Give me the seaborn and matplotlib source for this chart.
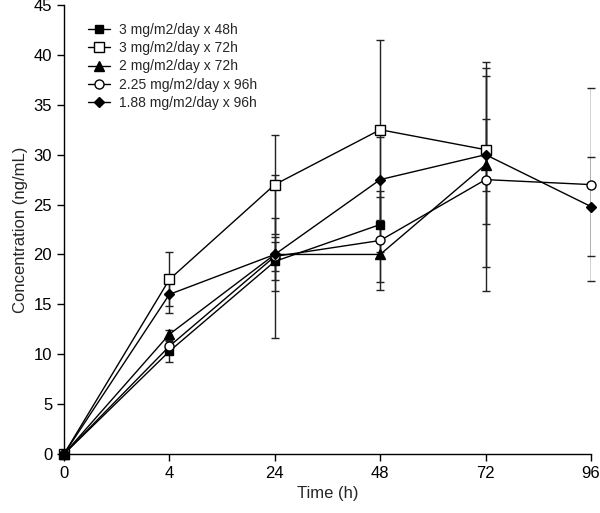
import matplotlib
matplotlib.use("Agg")
import matplotlib.pyplot as plt
import seaborn as sns
import numpy as np
import pandas as pd

time_labels = ["0", "4", "24", "48", "72", "96"]

labels = ["3 mg/m2/day x 48h", "3 mg/m2/day x 72h", "2 mg/m2/day x 72h",
          "2.25 mg/m2/day x 96h", "1.88 mg/m2/day x 96h"]

conc_3_48 = [0, 10.3, 19.3, 23.0]
err_3_48 = [0, 1.1, 1.9, 2.8]

conc_3_72 = [0, 17.5, 27.0, 32.5, 30.5]
err_3_72 = [0, 2.7, 5.0, 9.0, 7.4]

conc_2_72 = [0, 12.0, 20.0, 20.0, 29.0]
err_2_72 = [0, 0.4, 3.7, 2.8, 10.3]

conc_225_96 = [0, 10.8, 19.8, 21.4, 27.5, 27.0]
err_225_96 = [0, 0.5, 8.2, 5.0, 11.2, 9.7]

conc_188_96 = [0, 16.0, 20.0, 27.5, 30.0, 24.8]
err_188_96 = [0, 1.9, 1.7, 4.3, 3.6, 5.0]

series = [conc_3_48, conc_3_72, conc_2_72, conc_225_96, conc_188_96]
errors = [err_3_48, err_3_72, err_2_72, err_225_96, err_188_96]
markers = ["s", "s", "^", "o", "D"]
faces = ["black", "white", "black", "white", "black"]
msizes = [6, 6.5, 6.5, 6.5, 5]

sns.set_style("ticks")
plt.rcParams["font.family"] = ["Liberation Sans", "DejaVu Sans"]

fig = plt.figure(figsize=(6.0, 5.13), dpi=100)
ax = fig.add_axes([64/600, 1 - 454/513, (591-64)/600, (454-5)/513])

for lab, vals, errs, m, fc, ms in zip(labels, series, errors, markers, faces, msizes):
    n = len(vals)
    df = pd.DataFrame({"t": np.arange(n), "c": vals})
    ax.errorbar(df["t"], df["c"], yerr=errs, fmt="none", ecolor="#222222",
                elinewidth=1.0, capsize=3, capthick=1.0, zorder=2)
    sns.lineplot(data=df, x="t", y="c", ax=ax, color="black", linewidth=1.0,
                 marker=m, markersize=ms, markerfacecolor=fc,
                 markeredgecolor="black", markeredgewidth=1.0,
                 label=lab, zorder=3)

ax.set_xlim(0, 5)
ax.set_ylim(0, 45)
ax.set_xticks(np.arange(len(time_labels)))
ax.set_xticklabels(time_labels)
ax.set_yticks(np.arange(0, 46, 5))
ax.tick_params(axis="both", labelsize=12, length=5, width=1, direction="out", colors="black")
ax.set_xlabel("Time (h)", fontsize=12)
ax.set_ylabel("Concentration (ng/mL)", fontsize=12)
for s in ["top", "right"]:
    ax.spines[s].set_visible(False)
for s in ["left", "bottom"]:
    ax.spines[s].set_color("black")
    ax.spines[s].set_linewidth(1.0)

leg = ax.legend(loc="upper left", bbox_to_anchor=(0.035, 0.972), frameon=False,
                fontsize=10, handlelength=1.6, handletextpad=0.6,
                labelspacing=0.3, borderaxespad=0.0)
for line in ax.lines:
    line.set_clip_on(False)

fig.savefig("out.png", dpi=100)
